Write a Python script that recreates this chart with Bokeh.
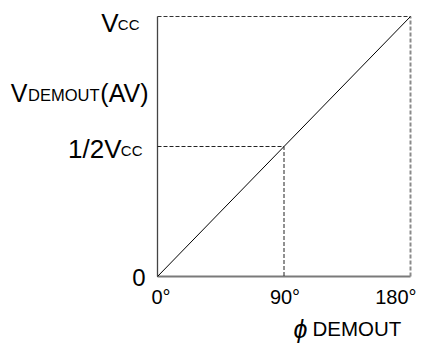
from bokeh.plotting import figure
from bokeh.models import Range1d, Label
from bokeh.embed import file_html
from bokeh.resources import INLINE

# ---- data ----
phase_ticks = [0, 90, 180]            # degrees
phase_labels = ["0°", "90°", "180°"]
level_ticks = [0, 0.5, 1.0]           # fraction of Vcc
phase = [0, 90, 180]                  # transfer curve: phase in degrees
vdemout = [0, 0.5, 1.0]               # average demodulator output (fraction of Vcc)

FONT = "Liberation Sans"
W, H = 422, 344
# frame covers the whole canvas; data 0..180 maps to px 157..410, 0..1 to px 276..16
L, R, T, B = 157, 410, 16, 276
xpx = (R - L) / 180.0
ypx = (B - T) / 1.0

p = figure(width=W, height=H, output_backend="svg", toolbar_location=None,
           x_range=Range1d(-L / xpx, 180 + (W - R) / xpx),
           y_range=Range1d(-(H - B) / ypx, 1 + T / ypx),
           x_axis_type=None, y_axis_type=None,
           min_border=0, min_border_left=0, min_border_right=0,
           min_border_top=0, min_border_bottom=0)
p.outline_line_color = None
p.background_fill_color = "white"
p.border_fill_color = "white"

x0, xm, x1 = phase_ticks
y0, ym, y1 = level_ticks

# frame lines
p.line([x0, x0], [y0, y1], line_color="#444444", line_width=1.3)
p.line([x0, x1], [y0, y0], line_color="#7a7a7a", line_width=2)
p.line([x0, x1], [y1, y1], line_color="#333333", line_width=1, line_dash="4 2")
p.line([x1, x1], [y0, y1], line_color="#8a8a8a", line_width=2, line_dash="4 2")
# half-Vcc guides
p.line([x0, xm, xm], [ym, ym, y0], line_color="#222222", line_width=1, line_dash="4 2")
# transfer curve
p.line(phase, vdemout, line_color="black", line_width=1)


def lab(x, y, text, size, align="left", xo=0, yo=0, style="normal", font=FONT):
    p.add_layout(Label(x=x, y=y, text=text, x_offset=xo, y_offset=yo,
                       text_align=align, text_baseline="alphabetic",
                       text_font=font, text_font_size=f"{size}px",
                       text_font_style=style, text_color="black"))


MAIN, SUB = 26, 15
# left labels (right aligned next to the axis)
lab(x0, y1, "CC", SUB, "right", -18, -8)
lab(x0, y1, "V", MAIN, "right", -39, -6)

ytitle = 0.7045
lab(x0, ytitle, "(AV)", 25, "right", -9, 0)
lab(x0, ytitle, "DEMOUT", 16.5, "right", -58, -2)
lab(x0, ytitle, "V", 25, "right", -130, 0)

lab(x0, ym, "CC", SUB, "right", -15, -4)
lab(x0, ym, "1/2V", MAIN, "right", -36, -2)

lab(x0, y0, "0", 24, "right", -12, -1)

# bottom tick labels
lab(phase_ticks[0], y0, phase_labels[0], 20, "left", -6, -20)
lab(phase_ticks[1], y0, phase_labels[1], 20, "center", 1, -20)
lab(phase_ticks[2], y0, phase_labels[2], 20, "right", 6, -20)

# x title
lab(x0, y0, "ϕ", 25, "left", 136, -52, style="italic", font=FONT)
lab(x0, y0, "DEMOUT", 20.5, "left", 155, -52)

open("out.html", "w").write(file_html(p, INLINE))
